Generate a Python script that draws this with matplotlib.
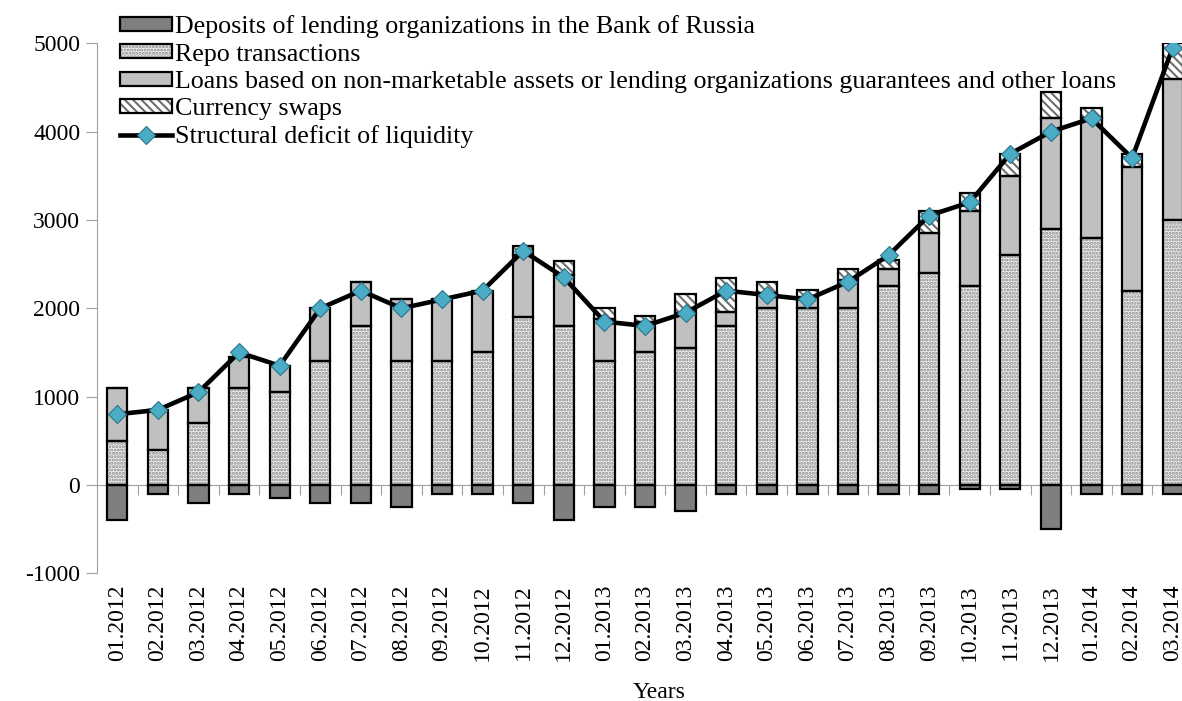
import numpy as np
import matplotlib
matplotlib.use('Agg')
import matplotlib.pyplot as plt
from matplotlib.patches import Patch
from matplotlib.lines import Line2D

plt.rcParams['font.family'] = ['Liberation Serif', 'DejaVu Serif']
plt.rcParams['hatch.linewidth'] = 1.5
plt.rcParams['axes.unicode_minus'] = False

# data (bn rub)
months = ['01.2012', '02.2012', '03.2012', '04.2012', '05.2012', '06.2012',
          '07.2012', '08.2012', '09.2012', '10.2012', '11.2012', '12.2012',
          '01.2013', '02.2013', '03.2013', '04.2013', '05.2013', '06.2013',
          '07.2013', '08.2013', '09.2013', '10.2013', '11.2013', '12.2013',
          '01.2014', '02.2014', '03.2014']
deposits = [-400, -100, -200, -100, -150, -200, -200, -250, -100, -100, -200, -400,
            -250, -250, -300, -100, -100, -100, -100, -100, -100, -50, -50, -500,
            -100, -100, -100]
repo = [500, 400, 700, 1100, 1050, 1400, 1800, 1400, 1400, 1500, 1900, 1800,
        1400, 1500, 1550, 1800, 2000, 2000, 2000, 2250, 2400, 2250, 2600, 2900,
        2800, 2200, 3000]
loans = [600, 450, 400, 350, 300, 600, 500, 700, 700, 700, 700, 575,
         475, 340, 400, 160, 170, 125, 320, 200, 450, 850, 900, 1250,
         1350, 1400, 1600]
swaps = [0, 0, 0, 0, 0, 0, 0, 0, 0, 0, 100, 165,
         125, 70, 210, 380, 130, 85, 130, 100, 250, 200, 250, 300,
         120, 150, 400]
deficit = [800, 850, 1050, 1500, 1350, 2000, 2200, 2000, 2100, 2200, 2650, 2350,
           1850, 1800, 1950, 2200, 2150, 2100, 2300, 2600, 3050, 3200, 3750, 4000,
           4150, 3700, 4950]

labels = ['Deposits of lending organizations in the Bank of Russia',
          'Repo transactions',
          'Loans based on non-marketable assets or lending organizations guarantees and other loans',
          'Currency swaps',
          'Structural deficit of liquidity']

x = np.arange(len(months))
w = 0.5
repo_a = np.array(repo)
loans_top = repo_a + np.array(loans)

fig = plt.figure(figsize=(11.82, 7.01), dpi=100)
ax = fig.add_axes([97/1182, 1 - 573.3/701, 1096/1182, 530/701])

# (face, hatch, hatch colour) for each bar series
styles = [('#7f7f7f', None, '#7f7f7f'),
          ('#f0f0f0', '.....', '#8a8a8a'),
          ('#c0c0c0', None, '#c0c0c0'),
          ('white', '\\\\\\\\', '#6e6e6e')]
series = [(deposits, 0), (repo, 0), (loans, repo_a), (swaps, loans_top)]

for (vals, base), (fc, h, hc) in zip(series, styles):
    ax.bar(x, vals, w, bottom=base, facecolor=fc, hatch=h, edgecolor=hc, linewidth=0, zorder=2)
    ax.bar(x, vals, w, bottom=base, facecolor='none', edgecolor='black', linewidth=1.6, zorder=3)

ax.plot(x, deficit, color='black', lw=3.3, marker='D', ms=9,
        mfc='#4bacc6', mec='#2d7489', mew=0.8, zorder=5)

ax.set_xlim(-0.5, 26.5)
ax.set_ylim(-1000, 5000)
ax.set_yticks(np.arange(-1000, 5001, 1000))
ax.tick_params(axis='y', labelsize=17, length=8, color='#a0a0a0', pad=4)
ax.set_xticks(x, months, rotation=90, fontsize=17)
ax.tick_params(axis='x', length=0, pad=8)
for s in ['top', 'right', 'bottom']:
    ax.spines[s].set_visible(False)
ax.spines['left'].set_color('#a0a0a0')

# category axis crossing at zero
sec = ax.secondary_xaxis(1/6)
sec.set_xticks(np.arange(0.5, 26.5, 1))
sec.set_xticklabels([])
sec.tick_params(length=7, color='#a0a0a0')
for s in ['top', 'bottom']:
    sec.spines[s].set_color('#a0a0a0')

ax.set_xlabel('Years', fontsize=17)
ax.xaxis.set_label_coords(0.513, -0.205)

handles = []
for fc, h, hc in styles:
    handles.append((Patch(facecolor=fc, hatch=h, edgecolor=hc, lw=0),
                    Patch(facecolor='none', edgecolor='black', lw=1.6)))
handles.append(Line2D([], [], color='black', lw=3.3, marker='D', ms=9,
                      mfc='#4bacc6', mec='#2d7489', mew=0.8))
fig.legend(handles, labels, loc='upper left', bbox_to_anchor=(120/1182, 1 - 15.5/701),
           frameon=False, fontsize=18.7, handlelength=2.0, handleheight=0.46,
           handletextpad=0.12, labelspacing=0.2, borderpad=0, borderaxespad=0)

fig.savefig('out.png', dpi=100)
